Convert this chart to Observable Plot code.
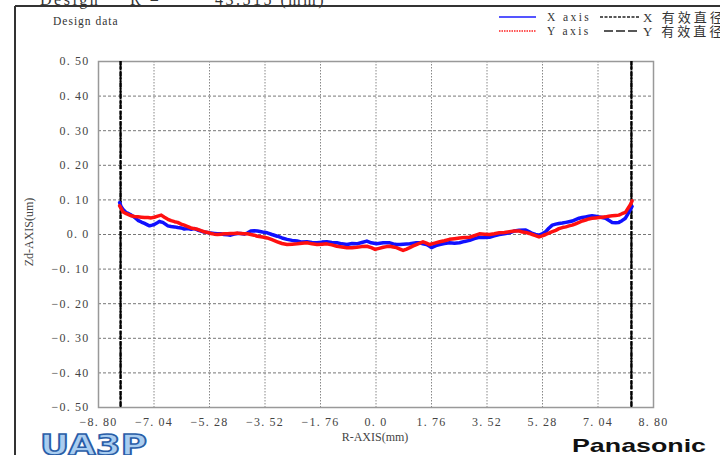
<!DOCTYPE html>
<html>
<head>
<meta charset="utf-8">
<script src="https://cdn.jsdelivr.net/npm/d3@7"></script>
<script src="https://cdn.jsdelivr.net/npm/@observablehq/plot@0.6"></script>
<style>
  html, body { margin: 0; padding: 0; background: #fff; }
  #chart { width: 720px; height: 455px; overflow: hidden; }
</style>
</head>
<body>
<div id="chart"></div>
<script>
// ---- data ----
const xTicks = [-8.8, -7.04, -5.28, -3.52, -1.76, 0, 1.76, 3.52, 5.28, 7.04, 8.8];
const xTickLabels = ["−8. 80", "−7. 04", "−5. 28", "−3. 52", "−1. 76", "0. 0", "1. 76", "3. 52", "5. 28", "7. 04", "8. 80"];
const yTicks = [0.5, 0.4, 0.3, 0.2, 0.1, 0, -0.1, -0.2, -0.3, -0.4, -0.5];
const yTickLabels = ["0. 50", "0. 40", "0. 30", "0. 20", "0. 10", "0. 0", "−0. 10", "−0. 20", "−0. 30", "−0. 40", "−0. 50"];

const effectiveX = [-8.10, 8.10];
const effectiveY = [-8.10, 8.10];

const blueR = [-8.13,-8.08,-8.02,-7.92,-7.84,-7.76,-7.66,-7.55,-7.44,-7.34,-7.25,-7.18,-7.10,-7.03,-6.95,-6.87,-6.81,-6.76,-6.68,-6.60,-6.50,-6.39,-6.29,-6.18,-6.08,-5.97,-5.86,-5.76,-5.66,-5.55,-5.45,-5.34,-5.24,-5.13,-5.03,-4.92,-4.82,-4.71,-4.61,-4.50,-4.39,-4.29,-4.18,-4.08,-3.97,-3.86,-3.76,-3.60,-3.45,-3.30,-3.13,-2.98,-2.82,-2.66,-2.50,-2.35,-2.19,-2.03,-1.87,-1.71,-1.56,-1.40,-1.24,-1.08,-0.92,-0.76,-0.61,-0.45,-0.29,-0.15,0.02,0.23,0.34,0.44,0.55,0.65,0.76,0.86,1.07,1.28,1.39,1.49,1.60,1.70,1.76,1.90,2.02,2.17,2.33,2.49,2.65,2.81,2.97,3.12,3.28,3.44,3.60,3.75,3.91,4.07,4.23,4.38,4.54,4.75,4.86,4.96,5.06,5.17,5.27,5.38,5.48,5.59,5.70,5.80,5.91,6.02,6.12,6.22,6.33,6.44,6.54,6.65,6.75,6.85,6.96,7.07,7.17,7.28,7.38,7.49,7.60,7.70,7.80,7.91,7.98,8.06,8.12];
const blueZ = [0.092,0.080,0.072,0.063,0.060,0.056,0.050,0.041,0.036,0.032,0.028,0.025,0.027,0.029,0.033,0.038,0.036,0.035,0.030,0.025,0.023,0.022,0.020,0.019,0.016,0.017,0.015,0.017,0.013,0.010,0.007,0.006,0.004,0.003,0.002,0.002,0.000,-0.001,-0.002,0.001,0.003,0.003,0.001,0.004,0.010,0.011,0.010,0.007,0.005,0.000,-0.005,-0.010,-0.014,-0.017,-0.019,-0.022,-0.021,-0.023,-0.024,-0.022,-0.021,-0.023,-0.024,-0.027,-0.029,-0.026,-0.027,-0.023,-0.019,-0.024,-0.027,-0.024,-0.024,-0.024,-0.027,-0.029,-0.029,-0.028,-0.027,-0.024,-0.024,-0.027,-0.029,-0.034,-0.038,-0.032,-0.029,-0.026,-0.024,-0.025,-0.024,-0.020,-0.017,-0.012,-0.008,-0.009,-0.008,-0.004,0.000,0.002,0.005,0.010,0.012,0.013,0.008,0.003,0.000,-0.002,0.002,0.008,0.018,0.027,0.030,0.032,0.033,0.035,0.037,0.039,0.043,0.047,0.049,0.051,0.053,0.054,0.053,0.051,0.049,0.047,0.041,0.035,0.034,0.035,0.040,0.047,0.058,0.071,0.081];

const redR = [-8.13,-8.08,-8.02,-7.92,-7.76,-7.66,-7.55,-7.44,-7.34,-7.23,-7.13,-7.03,-6.92,-6.81,-6.71,-6.60,-6.50,-6.39,-6.29,-6.18,-6.08,-5.97,-5.87,-5.76,-5.66,-5.55,-5.45,-5.34,-5.24,-5.13,-5.03,-4.92,-4.82,-4.71,-4.61,-4.50,-4.39,-4.29,-4.18,-4.08,-3.97,-3.86,-3.76,-3.60,-3.45,-3.30,-3.13,-2.98,-2.82,-2.66,-2.50,-2.35,-2.19,-2.03,-1.87,-1.71,-1.56,-1.40,-1.24,-1.08,-0.92,-0.76,-0.61,-0.45,-0.29,-0.15,-0.03,0.10,0.23,0.34,0.44,0.55,0.65,0.76,0.86,0.97,1.07,1.18,1.28,1.39,1.49,1.60,1.70,1.86,2.02,2.17,2.33,2.49,2.65,2.81,2.97,3.12,3.28,3.44,3.60,3.75,3.91,4.07,4.23,4.38,4.54,4.65,4.75,4.86,4.96,5.06,5.17,5.27,5.38,5.48,5.59,5.70,5.80,5.91,6.02,6.12,6.22,6.33,6.44,6.54,6.65,6.75,6.85,6.96,7.07,7.17,7.28,7.38,7.49,7.60,7.70,7.80,7.91,7.98,8.06,8.12];
const redZ = [0.083,0.075,0.065,0.060,0.054,0.052,0.051,0.050,0.049,0.049,0.048,0.050,0.053,0.056,0.050,0.044,0.040,0.037,0.035,0.030,0.027,0.023,0.019,0.017,0.015,0.011,0.008,0.006,0.003,0.001,0.000,0.001,0.002,0.002,0.003,0.003,0.004,0.003,0.002,0.002,0.000,-0.002,-0.005,-0.007,-0.010,-0.015,-0.021,-0.026,-0.029,-0.028,-0.027,-0.025,-0.024,-0.027,-0.029,-0.028,-0.027,-0.030,-0.034,-0.036,-0.038,-0.038,-0.037,-0.035,-0.034,-0.038,-0.043,-0.040,-0.037,-0.035,-0.034,-0.036,-0.038,-0.042,-0.046,-0.042,-0.038,-0.033,-0.029,-0.025,-0.021,-0.025,-0.029,-0.025,-0.021,-0.018,-0.014,-0.012,-0.010,-0.009,-0.008,-0.003,0.002,0.001,0.000,0.002,0.005,0.006,0.008,0.010,0.010,0.007,0.006,0.003,0.000,-0.003,-0.007,-0.004,0.000,0.004,0.008,0.012,0.017,0.020,0.022,0.025,0.027,0.031,0.035,0.039,0.042,0.045,0.047,0.048,0.049,0.050,0.051,0.053,0.054,0.055,0.056,0.060,0.064,0.074,0.085,0.097];

// ---- build tables ----
const blue = blueR.map((r, i) => ({r, z: blueZ[i]}));
const red = redR.map((r, i) => ({r, z: redZ[i]}));
const xLab = new Map(xTicks.map((t, i) => [t.toFixed(2), xTickLabels[i]]));
const yLab = new Map(yTicks.map((t, i) => [t.toFixed(2), yTickLabels[i]]));
const innerX = xTicks.slice(1, -1);
const innerY = yTicks.slice(1, -1);
const FONT = "'Liberation Serif', 'DejaVu Serif', 'Noto Sans CJK SC', serif";

const chart = Plot.plot({
  width: 720,
  height: 455,
  marginLeft: 98,
  marginRight: 67,
  marginTop: 61,
  marginBottom: 48,
  style: {background: "#fff", fontFamily: FONT, fontSize: "12px", color: "#444"},
  x: {domain: [-8.8, 8.8]},
  y: {domain: [-0.5, 0.5]},
  marks: [
    Plot.gridY(innerY, {stroke: "#777", strokeOpacity: 1, strokeDasharray: "3,2", strokeWidth: 1}),
    Plot.gridX(innerX, {stroke: "#888", strokeOpacity: 1, strokeDasharray: "1.5,1.5", strokeWidth: 1}),
    Plot.frame({stroke: "#999", strokeWidth: 1.5}),
    Plot.ruleX(effectiveX, {stroke: "#000", strokeWidth: 2, strokeDasharray: "4,1.5"}),
    Plot.ruleX(effectiveY, {stroke: "#000", strokeWidth: 2, strokeDasharray: "8,2"}),
    Plot.line(blue, {x: "r", y: "z", stroke: "#1010ff", strokeWidth: 3.5, strokeLinejoin: "round"}),
    Plot.line(red, {x: "r", y: "z", stroke: "#ff1010", strokeWidth: 3.5, strokeLinejoin: "round"}),
    Plot.axisX(xTicks, {tickSize: 0, tickPadding: 10, label: null, tickFormat: d => xLab.get(d.toFixed(2)), fill: "#444", fontSize: 12}),
    Plot.axisY(yTicks, {tickSize: 0, tickPadding: 9, label: null, tickFormat: d => yLab.get(d.toFixed(2)), fill: "#444", fontSize: 12})
  ]
});
document.getElementById("chart").appendChild(chart);

// widen tick label spacing to match the monospace look
d3.select(chart).selectAll("g[aria-label='x-axis tick label'] text, g[aria-label='y-axis tick label'] text")
  .attr("letter-spacing", 1.2).style("white-space", "pre");

// ---- annotations ----
const svg = d3.select(chart);
const g = svg.append("g").attr("font-family", FONT).attr("fill", "#333").attr("text-anchor", "start");

// outer frame (top and left edges visible)
g.append("line").attr("x1", 15).attr("x2", 720).attr("y1", 6).attr("y2", 6).attr("stroke", "#333").attr("stroke-width", 2);
g.append("line").attr("x1", 15).attr("x2", 15).attr("y1", 6).attr("y2", 455).attr("stroke", "#333").attr("stroke-width", 2);

// header line at very top (partly cut off in the reference)
const hdr = g.append("text").attr("y", 5).attr("font-size", 16).attr("letter-spacing", 2.5).attr("fill", "#333");
hdr.append("tspan").attr("x", 40).text("Design");
hdr.append("tspan").attr("x", 130).text("R =");
hdr.append("tspan").attr("x", 215).text("43.515 (mm)");

g.append("text").attr("x", 53).attr("y", 25).attr("font-size", 11.5).attr("letter-spacing", 1).text("Design data");

// axis titles
g.append("text").attr("transform", "translate(33,232) rotate(-90)").attr("text-anchor", "middle")
  .attr("font-size", 12).attr("fill", "#444").text("Zd-AXIS(um)");
g.append("text").attr("x", 375).attr("y", 441).attr("text-anchor", "middle")
  .attr("font-size", 12).attr("fill", "#444").text("R-AXIS(mm)");

// legend
g.append("line").attr("x1", 499).attr("x2", 536).attr("y1", 17).attr("y2", 17).attr("stroke", "#5555ff").attr("stroke-width", 2);
g.append("text").attr("x", 547).attr("y", 21).attr("font-size", 11.5).attr("letter-spacing", 2.4).text("X axis");
g.append("line").attr("x1", 600).attr("x2", 640).attr("y1", 17).attr("y2", 17).attr("stroke", "#222").attr("stroke-width", 1.5).attr("stroke-dasharray", "3,1.5");
g.append("text").attr("x", 643).attr("y", 21.5).attr("font-size", 13).attr("letter-spacing", 3).text("X 有效直径");

g.append("line").attr("x1", 499).attr("x2", 536).attr("y1", 31).attr("y2", 31).attr("stroke", "#ff2020").attr("stroke-width", 1.5).attr("stroke-dasharray", "1.5,1");
g.append("text").attr("x", 547).attr("y", 35).attr("font-size", 11.5).attr("letter-spacing", 2.4).text("Y axis");
g.append("line").attr("x1", 604).attr("x2", 640).attr("y1", 31).attr("y2", 31).attr("stroke", "#222").attr("stroke-width", 1.5).attr("stroke-dasharray", "9,3");
g.append("text").attr("x", 643).attr("y", 35.5).attr("font-size", 13).attr("letter-spacing", 3).text("Y 有效直径");

// logos
g.append("text").attr("x", 40).attr("y", 455).attr("font-family", "'DejaVu Sans', sans-serif").attr("font-weight", "bold")
  .attr("font-size", 28).attr("textLength", 107).attr("lengthAdjust", "spacingAndGlyphs")
  .attr("fill", "#a9cdf0").attr("stroke", "#2a5ea8").attr("stroke-width", 1.5).text("UA3P");
g.append("text").attr("x", 572).attr("y", 452).attr("font-family", "'Liberation Sans', Arial, sans-serif").attr("font-weight", "bold")
  .attr("font-size", 19).attr("textLength", 134).attr("lengthAdjust", "spacingAndGlyphs")
  .attr("fill", "#111").text("Panasonic");
</script>
</body>
</html>
